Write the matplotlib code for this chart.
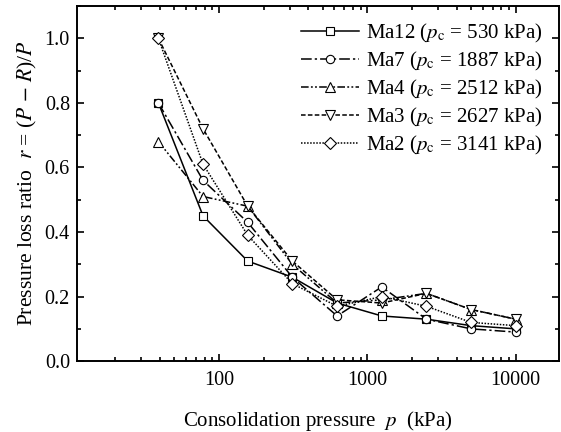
#!/usr/bin/env python
import matplotlib
matplotlib.use('Agg')
import matplotlib.pyplot as plt
from matplotlib.ticker import FixedLocator, LogLocator, NullFormatter, MultipleLocator

plt.rcParams['font.family'] = ['Liberation Serif', 'DejaVu Serif']
plt.rcParams['mathtext.fontset'] = 'stix'

# consolidation pressure p (kPa)
pressure = [39, 78, 156, 312, 625, 1250, 2500, 5000, 10000]

# pressure loss ratio r for each sample
ma12 = [0.80, 0.45, 0.31, 0.26, 0.18, 0.14, 0.13, 0.11, 0.10]
ma7 = [0.80, 0.56, 0.43, 0.26, 0.14, 0.23, 0.13, 0.10, 0.09]
ma4 = [0.68, 0.51, 0.48, 0.30, 0.18, 0.19, 0.21, 0.16, 0.13]
ma3 = [1.00, 0.72, 0.48, 0.31, 0.19, 0.18, 0.21, 0.16, 0.13]
ma2 = [1.00, 0.61, 0.39, 0.24, 0.17, 0.20, 0.17, 0.12, 0.11]

names = ['Ma12', 'Ma7', 'Ma4', 'Ma3', 'Ma2']
pc_values = [530, 1887, 2512, 2627, 3141]

series = [ma12, ma7, ma4, ma3, ma2]
markers = ['s', 'o', '^', 'v', 'D']
msizes = [5.5, 6, 7, 7, 6]
styles = ['-', (0, (7, 2, 1.5, 2)), (0, (5, 1.5, 1.2, 1.5, 1.2, 1.5)),
          (0, (3, 1.5)), (0, (1, 1))]

fig = plt.figure(figsize=(5.61, 4.32), dpi=100)
ax = fig.add_axes([0.137, 0.164, 0.859, 0.822])

for vals, name, pc, mk, ms, ls in zip(series, names, pc_values, markers, msizes, styles):
    ax.plot(pressure, vals, color='black', linestyle=ls, linewidth=1.1,
            marker=mk, markersize=ms, markerfacecolor='white',
            markeredgecolor='black', markeredgewidth=0.8,
            label=r'%s ($p_{\mathrm{c}}$ = %d kPa)' % (name, pc))

ax.set_xscale('log')
ax.set_xlim(11, 19500)
ax.set_ylim(0, 1.1)
ax.xaxis.set_major_locator(FixedLocator([100, 1000, 10000]))
ax.set_xticklabels(['100', '1000', '10000'])
ax.xaxis.set_minor_locator(LogLocator(base=10, subs=range(2, 10)))
ax.xaxis.set_minor_formatter(NullFormatter())
ax.yaxis.set_major_locator(MultipleLocator(0.2))
ax.yaxis.set_minor_locator(MultipleLocator(0.1))
ax.yaxis.set_major_formatter(matplotlib.ticker.FormatStrFormatter('%.1f'))

ax.tick_params(which='both', direction='in', top=True, right=True,
               labelsize=14.5, width=1.2)
ax.tick_params(which='major', length=5)
ax.tick_params(which='minor', length=3)
ax.tick_params(axis='x', pad=7)
ax.tick_params(axis='y', pad=5)
for sp in ax.spines.values():
    sp.set_linewidth(1.4)

ax.set_xlabel(r'Consolidation pressure  $p$  (kPa)', fontsize=15, labelpad=14)
ax.set_ylabel(r'Pressure loss ratio  $r$ = ($P$ $-$ $R$)/$P$', fontsize=15.5, labelpad=4)

ax.legend(loc='upper right', frameon=False, fontsize=15, handlelength=2.8,
          handletextpad=0.35, labelspacing=0.24, borderaxespad=0.4,
          borderpad=0.35)

fig.savefig('out.png', dpi=100)
